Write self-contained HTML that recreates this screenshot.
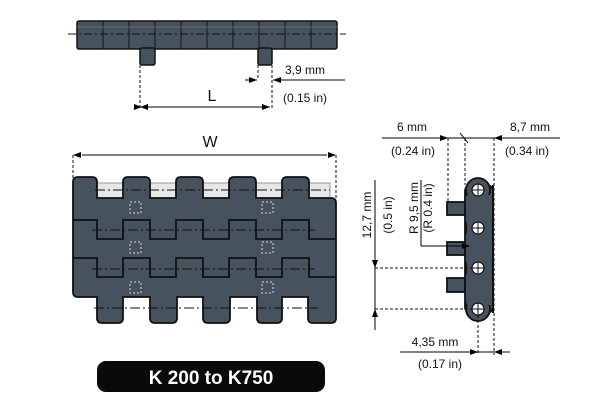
<!DOCTYPE html><html><head><style>body{margin:0;background:#fff}svg{display:block}text{font-family:"Liberation Sans",sans-serif;fill:#111}</style></head><body>
<svg width="600" height="411" viewBox="0 0 600 411" xmlns="http://www.w3.org/2000/svg">
<defs><marker id="a" markerWidth="8" markerHeight="6" refX="8" refY="3" orient="auto" markerUnits="userSpaceOnUse"><path d="M0,0L8,3L0,6z" fill="#000"/></marker></defs>
<!-- top view -->
<rect x="77" y="21" width="260" height="28" rx="2" fill="#46525e" stroke="#111" stroke-width="1.5"/>
<g stroke="#111" stroke-width="1">
<line x1="103" y1="21" x2="103" y2="49"/><line x1="129" y1="21" x2="129" y2="49"/><line x1="155" y1="21" x2="155" y2="49"/><line x1="181" y1="21" x2="181" y2="49"/><line x1="207" y1="21" x2="207" y2="49"/><line x1="233" y1="21" x2="233" y2="49"/><line x1="259" y1="21" x2="259" y2="49"/><line x1="285" y1="21" x2="285" y2="49"/><line x1="311" y1="21" x2="311" y2="49"/>
<line x1="77" y1="27" x2="337" y2="27" stroke="#667" /></g>
<rect x="140" y="48" width="15" height="17" rx="2" fill="#46525e" stroke="#111" stroke-width="1.5"/>
<rect x="258" y="48" width="14" height="17" rx="2" fill="#46525e" stroke="#111" stroke-width="1.5"/>
<line x1="68" y1="34" x2="346" y2="34" stroke="#111" stroke-dasharray="8,3,2,3"/>
<g stroke="#111" stroke-dasharray="3,2"><line x1="140" y1="65" x2="140" y2="108"/><line x1="272" y1="65" x2="272" y2="108"/><line x1="258" y1="65" x2="258" y2="80"/></g>
<line x1="142" y1="107" x2="270" y2="107" stroke="#000" marker-start="url(#a)" marker-end="url(#a)" style="marker-start:url(#a)"/>
<path d="M148,104L140,107L148,110z" fill="#000"/>
<line x1="245" y1="80" x2="257" y2="80" stroke="#000" marker-end="url(#a)"/>
<line x1="345" y1="80" x2="273" y2="80" stroke="#000" marker-end="url(#a)"/>
<text x="212" y="101" font-size="16" text-anchor="middle">L</text>
<text x="305" y="74" font-size="12" text-anchor="middle">3,9 mm</text>
<text x="305" y="102" font-size="12" text-anchor="middle">(0.15 in)</text>
<!-- W view -->
<text x="210" y="147" font-size="16" text-anchor="middle">W</text>
<g stroke="#111" stroke-dasharray="3,2"><line x1="73" y1="155" x2="73" y2="178"/><line x1="336" y1="155" x2="336" y2="200"/></g>
<line x1="82" y1="155" x2="327" y2="155" stroke="#000"/>
<path d="M81,152L73,155L81,158z M328,152L336,155L328,158z" fill="#000"/>
<rect x="97" y="183" width="233" height="15" fill="#e6e6e6" stroke="#999"/>
<path d="M73,182Q73,177 78,177L92,177Q97,177 97,182L97,198L123,198L123,182Q123,177 128,177L145,177Q150,177 150,182L150,198L176,198L176,182Q176,177 181,177L198,177Q203,177 203,182L203,198L229,198L229,182Q229,177 234,177L251,177Q256,177 256,182L256,198L282,198L282,182Q282,177 287,177L304,177Q309,177 309,182L309,198L331,198Q336,198 336,203L336,318Q336,323 331,323L313,323Q308,323 308,318L308,297L282,297L282,318Q282,323 277,323L262,323Q257,323 257,318L257,297L230,297L230,318Q230,323 225,323L208,323Q203,323 203,318L203,297L177,297L177,318Q177,323 172,323L155,323Q150,323 150,318L150,297L123,297L123,318Q123,323 118,323L102,323Q97,323 97,318L97,297L78,297Q73,297 73,292Z" fill="#46525e" stroke="#111" stroke-width="1.8"/>
<g fill="none" stroke="#111" stroke-width="1.8">
<polyline points="73,220 97,220 97,239 123,239 123,220 150,220 150,239 176,239 176,220 203,220 203,239 229,239 229,220 256,220 256,239 282,239 282,220 309,220 309,239 336,239"/>
<polyline points="73,258 97,258 97,277 123,277 123,258 150,258 150,277 176,277 176,258 203,258 203,277 229,277 229,258 256,258 256,277 282,277 282,258 309,258 309,277 336,277"/>
</g>
<g stroke="#111" stroke-dasharray="10,3,2,3"><line x1="95" y1="190" x2="330" y2="190"/><line x1="92" y1="230" x2="315" y2="230"/><line x1="92" y1="269" x2="315" y2="269"/><line x1="94" y1="308" x2="318" y2="308"/></g>
<g fill="none" stroke="#ddd" stroke-dasharray="2,2"><rect x="130" y="202" width="11" height="11"/><rect x="262" y="202" width="11" height="11"/><rect x="130" y="242" width="11" height="11"/><rect x="262" y="242" width="11" height="11"/><rect x="130" y="282" width="11" height="11"/><rect x="262" y="282" width="11" height="11"/></g>
<!-- side view -->
<g fill="#46525e" stroke="#111" stroke-width="1.8">
<rect x="447" y="202" width="18" height="13"/><rect x="447" y="242" width="18" height="13"/><rect x="447" y="278" width="18" height="14"/>
<rect x="465" y="185" width="28" height="128" rx="6"/>
<circle cx="478" cy="190" r="12"/><circle cx="478" cy="228" r="12"/><circle cx="478" cy="268" r="12"/><circle cx="478" cy="309" r="12"/>
</g>
<rect x="467" y="195" width="24" height="110" fill="#46525e"/>
<g fill="#fff" stroke="#111" stroke-width="1.2"><circle cx="478" cy="190" r="6"/><circle cx="478" cy="228" r="6"/><circle cx="478" cy="268" r="6"/><circle cx="478" cy="309" r="6"/></g>
<g stroke="#111" stroke-width="1"><path d="M472,190h12M478,184v12M472,228h12M478,222v12M472,268h12M478,262v12M472,309h12M478,303v12"/></g>
<line x1="493" y1="185" x2="493" y2="313" stroke="#111" stroke-width="2"/>
<g stroke="#111" stroke-dasharray="3,2"><line x1="448" y1="138" x2="448" y2="202"/><line x1="465" y1="138" x2="465" y2="185"/><line x1="494" y1="138" x2="494" y2="355"/><line x1="478" y1="315" x2="478" y2="355"/><line x1="375" y1="268" x2="472" y2="268"/><line x1="375" y1="309" x2="472" y2="309"/></g>
<line x1="382" y1="138" x2="560" y2="138" stroke="#000"/>
<path d="M440,135L448,138L440,141z M502,135L494,138L502,141z" fill="#000"/>
<line x1="460" y1="133" x2="468" y2="143" stroke="#000"/>
<text x="412" y="131" font-size="12" text-anchor="middle">6 mm</text>
<text x="413" y="155" font-size="12" text-anchor="middle">(0.24 in)</text>
<text x="530" y="131" font-size="12" text-anchor="middle">8,7 mm</text>
<text x="527" y="155" font-size="12" text-anchor="middle">(0.34 in)</text>
<line x1="375" y1="180" x2="375" y2="330" stroke="#000"/>
<path d="M372,260L375,268L378,260z M372,317L375,309L378,317z" fill="#000"/>
<text transform="translate(371,215) rotate(-90)" font-size="12" text-anchor="middle">12,7 mm</text>
<text transform="translate(392,215) rotate(-90)" font-size="12" text-anchor="middle">(0.5 in)</text>
<line x1="421" y1="180" x2="421" y2="246" stroke="#000"/>
<line x1="421" y1="246" x2="469" y2="246" stroke="#000"/>
<path d="M462,243L470,246L462,249z" fill="#000"/>
<text transform="translate(418,208) rotate(-90)" font-size="12" text-anchor="middle">R 9,5 mm</text>
<text transform="translate(432,208) rotate(-90)" font-size="12" text-anchor="middle">(R 0.4 in)</text>
<line x1="400" y1="352" x2="510" y2="352" stroke="#000"/>
<path d="M470,349L478,352L470,355z M502,349L494,352L502,355z" fill="#000"/>
<text x="435" y="346" font-size="12" text-anchor="middle">4,35 mm</text>
<text x="440" y="368" font-size="12" text-anchor="middle">(0.17 in)</text>
<!-- label -->
<rect x="97" y="361" width="228" height="31" rx="9" fill="#0a0a0a"/>
<text x="211" y="384" font-size="19" font-weight="bold" text-anchor="middle" style="fill:#fff">K 200 to K750</text>
</svg></body></html>
